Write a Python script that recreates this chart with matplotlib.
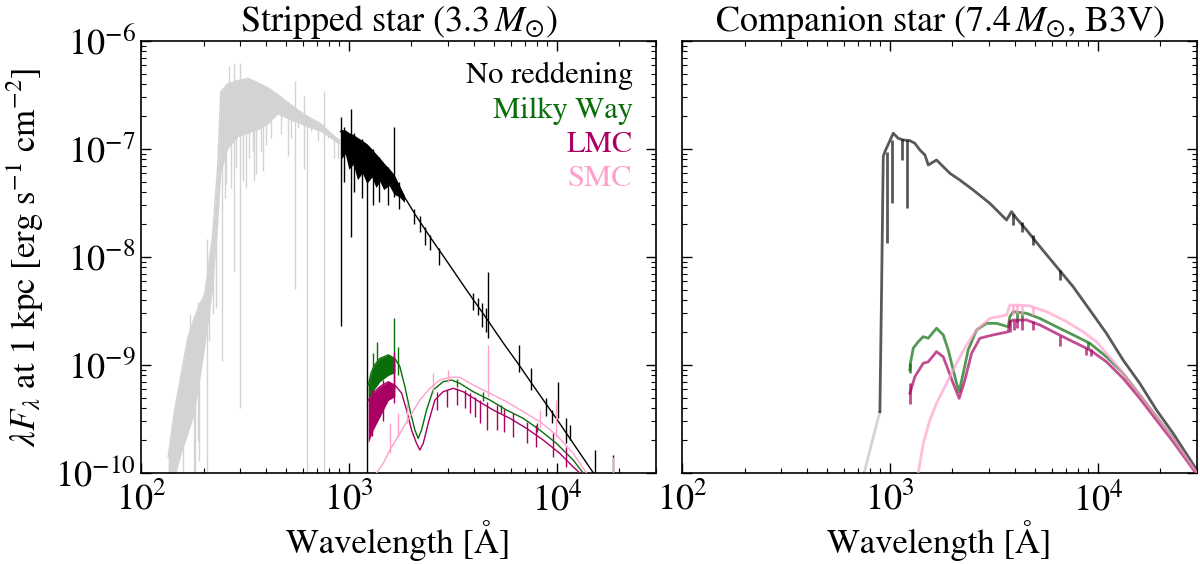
import numpy as np
import matplotlib
matplotlib.use("Agg")
import matplotlib.pyplot as plt

plt.rcParams['font.family'] = ['STIXGeneral', 'DejaVu Serif']
plt.rcParams['mathtext.fontset'] = 'stix'

# colours
c_gray = '#d3d3d3'
c_mw = '#0a6e0a'
c_lmc = '#aa0064'
c_smc = '#ffa0cd'

# ---------------- stripped star (left) ----------------
# unreddened spectrum below the Lyman limit (light grey): top and bottom of the line forest
gray_wl = [135, 145, 156, 168, 180, 191, 202, 209, 221, 234, 242, 261, 292, 326,
           364, 406, 454, 507, 567, 633, 734, 819, 900]
gray_hi = [1.4e-10, 3.8e-10, 8.2e-10, 1.8e-9, 2.7e-9, 3.6e-9, 4.5e-9, 6.9e-9, 1.6e-8,
           7.2e-8, 3.4e-7, 4.0e-7, 4.3e-7, 4.5e-7, 4.1e-7, 3.7e-7, 3.2e-7, 2.7e-7,
           2.3e-7, 2.0e-7, 1.7e-7, 1.4e-7, 1.2e-7]
gray_lo = [9e-11, 9e-11, 1.5e-10, 2.3e-10, 3.5e-10, 7e-10, 1.4e-9, 2.3e-9, 5e-9,
           2e-8, 6e-8, 1.0e-7, 1.3e-7, 1.4e-7, 1.5e-7, 1.7e-7, 2.1e-7, 1.9e-7,
           1.75e-7, 1.6e-7, 1.45e-7, 1.25e-7, 1.1e-7]
gray_sp_wl = [141, 147, 159, 172, 180, 181, 187, 189, 190, 208, 213, 221, 229,
              245, 253, 256, 266, 271, 281, 286, 300, 308, 320, 332, 344, 351, 357,
              378, 385, 399, 422, 471, 507, 526, 550, 567, 610, 626, 657, 707, 755,
              790, 850, 882]
gray_sp_lo = [9e-11, 9e-11, 9e-11, 4e-10, 9e-11, 5e-11, 1.98e-10, 1e-9, 1.3e-10,
              5e-11, 1.67e-9, 2.94e-9, 3.37e-9,
              1.09e-9, 3.54e-8, 4.71e-8, 1.5e-7, 4.39e-8, 7.41e-9, 6.71e-8, 4.03e-10,
              5.06e-8, 4.39e-8, 8.31e-8, 9.58e-8, 5.06e-8, 5.83e-8, 9.58e-8, 6.25e-8,
              1.1e-7, 1.27e-7, 1.37e-7, 8.6e-8, 1.27e-7, 5.02e-9, 1.58e-7, 6.48e-8,
              5e-11, 1.47e-7, 1.19e-7, 5e-11, 1.27e-7, 8.3e-8, 8.31e-8]
gray_sp_hi = [2.82e-10, 4.64e-10, 8.2e-10, 2.94e-9, 1.92e-9, 2.7e-9, 2.22e-9, 3.8e-9,
              3.6e-9, 1.47e-8, 1.06e-8, 1.87e-8, 2.15e-8,
              3.44e-7, 3.4e-7, 3.9e-7, 5.88e-7, 4.1e-7, 6.08e-7, 4.3e-7, 6.3e-7,
              4.4e-7, 4.4e-7, 4.5e-7, 4.4e-7, 4.2e-7, 4.2e-7, 4.0e-7, 3.8e-7, 3.8e-7,
              3.5e-7, 3.1e-7, 2.7e-7, 2.6e-7, 4.27e-7, 2.3e-7, 3.1e-7, 2.02e-7,
              1.95e-7, 1.8e-7, 3.44e-7, 1.5e-7, 1.3e-7, 1.25e-7]

# no reddening (black)
bk_wl = [912, 1000, 1100, 1220, 1350, 1470, 1650, 1850, 2090, 2500, 3000, 3680,
         4500, 5500, 6400, 8000, 10000, 12000, 15000, 16500]
bk_f = [1.45e-7, 1.36e-7, 1.22e-7, 1.08e-7, 8.8e-8, 7.3e-8, 5.6e-8, 3.6e-8, 2.45e-8,
        1.46e-8, 8.8e-9, 4.95e-9, 2.85e-9, 1.62e-9, 1.08e-9, 5.8e-10, 3.15e-10,
        1.88e-10, 1.0e-10, 7.6e-11]
bk_band_wl = [912, 960, 1000, 1050, 1100, 1160, 1220, 1290, 1350, 1410, 1470, 1560,
              1650, 1750, 1850]
bk_band_hi = [1.52e-7, 1.5e-7, 1.42e-7, 1.36e-7, 1.28e-7, 1.2e-7, 1.12e-7, 1.0e-7,
              9.0e-8, 8.2e-8, 7.4e-8, 6.6e-8, 5.8e-8, 4.6e-8, 3.7e-8]
bk_band_lo = [8.0e-8, 9.0e-8, 6.5e-8, 7.2e-8, 5.2e-8, 6.0e-8, 4.8e-8, 5.5e-8, 4.4e-8,
              5.0e-8, 4.2e-8, 4.6e-8, 3.8e-8, 3.6e-8, 3.2e-8]
bk_sp_wl = [915, 950, 1022, 1060, 1150, 1216, 1300, 1400, 1550, 1655, 1750, 2050,
            2200, 2330, 2450, 2700, 3961, 4169, 4388, 4556, 4686, 6563, 7551, 8900,
            9436, 10140, 11130, 11600, 15240, 18660]
bk_sp_lo = [2.3e-9, 5e-8, 1.53e-8, 4e-8, 3.5e-8, 5e-11, 3.0e-8, 3.2e-8, 3.0e-8,
            3.6e-8, 2.8e-8, 2.0e-8, 1.7e-8, 1.3e-8, 1.15e-8, 8.5e-9, 3.2e-9, 2.9e-9,
            2.26e-9, 2.0e-9, 1.78e-9, 8.7e-10, 5.9e-10, 3.4e-10, 2.88e-10, 3.2e-10,
            1.88e-10, 2.0e-10, 8e-11, 8e-11]
bk_sp_hi = [1.98e-7, 1.6e-7, 2.33e-7, 1.4e-7, 1.25e-7, 1.1e-7, 1.0e-7, 8.5e-8,
            6.8e-8, 1.6e-7, 5.0e-8, 2.8e-8, 2.4e-8, 1.9e-8, 1.6e-8, 1.2e-8, 4.6e-9,
            4.2e-9, 3.72e-9, 3.4e-9, 7.3e-9, 1.53e-9, 9.3e-10, 5.0e-10, 3.83e-10,
            7.0e-10, 3.21e-10, 2.8e-10, 1.63e-10, 1.47e-10]

# Milky Way extinction
mw_wl = [1238, 1280, 1330, 1409, 1546, 1664, 1759, 1859, 1965, 2077, 2154, 2236,
         2363, 2543, 2841, 3116, 3418, 3961, 4764, 5728, 6889, 8285, 9963, 11983,
         13385, 14000]
mw_f = [6.5e-10, 8.5e-10, 1.0e-9, 1.15e-9, 1.24e-9, 1.15e-9, 9.65e-10, 6.3e-10,
        3.83e-10, 2.5e-10, 2.09e-10, 2.5e-10, 3.83e-10, 5.87e-10, 7.01e-10, 7.26e-10,
        6.76e-10, 5.66e-10, 4.74e-10, 3.83e-10, 3.21e-10, 2.5e-10, 1.88e-10,
        1.32e-10, 1.0e-10, 9e-11]
mw_band_wl = [1238, 1280, 1330, 1409, 1546, 1664]
mw_band_lo = [4.6e-10, 5.2e-10, 6.0e-10, 7.0e-10, 8.0e-10, 8.5e-10]
mw_sp_wl = [1300, 1358, 1650, 1720, 3300, 4400, 5400, 8000]
mw_sp_lo = [5e-10, 7e-10, 6e-10, 8e-10, 6.2e-10, 4.6e-10, 3.6e-10, 2.4e-10]
mw_sp_hi = [1.3e-9, 1.64e-9, 2.7e-9, 1.48e-9, 7.4e-10, 5.6e-10, 4.3e-10, 2.9e-10]

# LMC extinction
lmc_wl = [1238, 1309, 1409, 1546, 1664, 1792, 1894, 2001, 2115, 2194, 2278, 2407,
          2591, 2841, 3174, 3545, 4110, 4942, 5942, 7149, 8597, 10337, 11983, 12898,
          13500]
lmc_f = [4.7e-10, 5.5e-10, 6.3e-10, 7.0e-10, 6.5e-10, 5.5e-10, 3.83e-10, 2.5e-10,
         1.88e-10, 1.63e-10, 1.88e-10, 2.88e-10, 4.74e-10, 5.66e-10, 6.08e-10,
         5.66e-10, 4.74e-10, 3.83e-10, 3.21e-10, 2.59e-10, 2.02e-10, 1.52e-10,
         1.14e-10, 1.0e-10, 9e-11]
lmc_band_wl = [1238, 1309, 1409, 1546, 1664]
lmc_band_lo = [1.9e-10, 2.5e-10, 3.3e-10, 4.7e-10, 5.1e-10]
lmc_sp_wl = [1285, 1463, 1650, 2640, 2949, 3293, 3600, 3817, 4050, 4264, 4591, 5128,
             5600, 6167, 7149, 7984, 9603, 11130]
lmc_sp_lo = [2.2e-10, 3.0e-10, 4.41e-10, 3.83e-10, 4.11e-10, 4.26e-10, 4.0e-10,
             3.57e-10, 3.3e-10, 2.88e-10, 2.5e-10, 2.5e-10, 2.4e-10, 2.16e-10,
             1.88e-10, 1.75e-10, 1.42e-10, 1.14e-10]
lmc_sp_hi = [5.9e-10, 7.3e-10, 1.33e-9, 5.66e-10, 5.87e-10, 6.08e-10, 5.9e-10,
             5.47e-10, 5.1e-10, 4.74e-10, 4.58e-10, 4.26e-10, 3.9e-10, 3.57e-10,
             2.99e-10, 2.78e-10, 2.33e-10, 1.75e-10]

# SMC extinction
smc_wl = [1330, 1358, 1463, 1574, 1759, 1965, 2194, 2452, 2739, 3059, 3418, 3961,
          4764, 5728, 6889, 8285, 9963, 11983, 13886, 14500]
smc_f = [9e-11, 1.0e-10, 1.23e-10, 1.63e-10, 2.33e-10, 3.32e-10, 4.74e-10, 6.08e-10,
         7.26e-10, 7.69e-10, 7.69e-10, 6.53e-10, 5.47e-10, 4.58e-10, 3.7e-10,
         2.99e-10, 2.25e-10, 1.52e-10, 1.0e-10, 9e-11]
smc_sp_wl = [1574, 1730, 1894, 2543, 3000, 4680, 8285, 9963, 18660]
smc_sp_lo = [1.52e-10, 2.16e-10, 2.88e-10, 5.5e-10, 7.0e-10, 5.09e-10, 2.6e-10,
             2.16e-10, 8e-11]
smc_sp_hi = [2.88e-10, 3.57e-10, 4.41e-10, 8.4e-10, 9.0e-10, 1.53e-9, 3.83e-10,
             4.74e-10, 1.4e-10]

# ---------------- companion star (right) ----------------
cg_wl = [740, 758, 895]
cg_f = [9e-11, 1.07e-10, 3.7e-10]
cb_wl = [895, 912, 929, 946, 1038, 1097, 1159, 1248, 1319, 1394, 1474, 1529, 1676,
         1805, 1944, 2170, 2516, 3025, 3639, 3846, 4064, 4541, 5264, 6329, 7609,
         9153, 11010, 13241, 15921, 19151, 23026, 29263, 31000]
cb_f = [3.7e-10, 5e-9, 8.5e-8, 9.45e-8, 1.40e-7, 1.256e-7, 1.212e-7, 1.195e-7,
        1.128e-7, 9.79e-8, 8.8e-8, 7.11e-8, 7.91e-8, 6.86e-8, 5.95e-8, 5.16e-8,
        4.17e-8, 3.14e-8, 2.2e-8, 2.63e-8, 2.28e-8, 1.78e-8, 1.25e-8, 8.14e-9,
        5.31e-9, 3.23e-9, 1.96e-9, 1.11e-9, 6.76e-10, 3.83e-10, 2.33e-10, 1.14e-10,
        1.0e-10]
cb_sp_wl = [971, 1019, 1138, 1202, 3916, 4296, 4852, 6568]
cb_sp_lo = [1.34e-8, 3.14e-8, 7.9e-8, 2.82e-8, 1.98e-8, 1.72e-8, 1.29e-8, 6.12e-9]
cb_sp_hi = [9.3e-8, 1.2e-7, 1.25e-7, 1.2e-7, 2.5e-8, 2.1e-8, 1.6e-8, 7.6e-9]

cmw_wl = [1248, 1255, 1295, 1368, 1447, 1529, 1676, 1805, 1908, 2016, 2092, 2154,
          2252, 2380, 2611, 2916, 3257, 3707, 3776, 3916, 4541, 5264, 6329, 7609,
          9153, 11010, 13241, 15921, 19151, 23026, 29263, 31000]
cmw_f = [9e-10, 1.04e-9, 1.43e-9, 1.64e-9, 1.83e-9, 1.77e-9, 2.19e-9, 1.90e-9,
         1.38e-9, 8.99e-10, 6.76e-10, 5.66e-10, 8.37e-10, 1.38e-9, 2.11e-9, 2.43e-9,
         2.43e-9, 2.26e-9, 2.80e-9, 3.12e-9, 3.01e-9, 2.70e-9, 2.26e-9, 1.90e-9,
         1.59e-9, 1.19e-9, 8.37e-10, 5.28e-10, 3.32e-10, 2.09e-10, 1.07e-10, 9.5e-11]
cmw_sp_wl = [1250, 4100, 4340, 9000]
cmw_sp_lo = [8.5e-10, 2.5e-9, 2.6e-9, 1.45e-9]
cmw_sp_hi = [1.05e-9, 3.0e-9, 3.0e-9, 1.65e-9]

clmc_wl = [1248, 1319, 1447, 1529, 1676, 1805, 1908, 2016, 2154, 2294, 2470, 2708,
           3140, 3707, 3776, 3916, 4541, 5264, 6329, 7609, 9153, 11010, 13241,
           15921, 19151, 23026, 29263, 31000]
clmc_f = [5.47e-10, 7.8e-10, 1.04e-9, 1.07e-9, 1.33e-9, 1.19e-9, 8.99e-10, 6.76e-10,
          4.91e-10, 7.26e-10, 1.28e-9, 1.77e-9, 1.90e-9, 2.03e-9, 2.52e-9, 2.61e-9,
          2.61e-9, 2.35e-9, 1.96e-9, 1.64e-9, 1.38e-9, 1.07e-9, 7.52e-10, 4.91e-10,
          3.09e-10, 1.95e-10, 1.03e-10, 9e-11]
clmc_sp_wl = [1250, 3800, 3970, 4100, 4340, 4861, 6563, 8800, 9300]
clmc_sp_lo = [4.4e-10, 2.0e-9, 2.1e-9, 2.2e-9, 2.1e-9, 2.1e-9, 1.5e-9, 1.25e-9, 1.2e-9]
clmc_sp_hi = [6.8e-10, 2.6e-9, 2.6e-9, 2.6e-9, 2.6e-9, 2.55e-9, 1.85e-9, 1.45e-9, 1.4e-9]

csmc_wl = [1340, 1368, 1447, 1557, 1676, 1873, 2092, 2337, 2611, 3025, 3639, 3776,
           4064, 4711, 5665, 7070, 8502, 9854, 11010, 13241, 15921, 19151, 23026,
           29263, 31000]
csmc_f = [9e-11, 1.0e-10, 1.88e-10, 3.09e-10, 4.41e-10, 6.76e-10, 1.04e-9, 1.53e-9,
          2.11e-9, 2.70e-9, 2.90e-9, 3.59e-9, 3.59e-9, 3.52e-9, 3.12e-9, 2.52e-9,
          2.03e-9, 1.64e-9, 1.28e-9, 8.37e-10, 5.28e-10, 3.32e-10, 2.09e-10,
          1.07e-10, 9.5e-11]
csmc_sp_wl = [3900, 4100, 4340, 4861]
csmc_sp_lo = [2.9e-9, 3.0e-9, 2.9e-9, 2.9e-9]
csmc_sp_hi = [3.6e-9, 3.6e-9, 3.55e-9, 3.45e-9]


def spectrum(ax, wl, f, color, lw, alpha=1.0, sp=None, band=None, z=2):
    ax.plot(wl, f, color=color, lw=lw, alpha=alpha, zorder=z)
    if band is not None:
        bwl, blo, bhi = band
        ax.fill_between(bwl, blo, bhi, color=color, alpha=alpha, lw=0, zorder=z)
    if sp is not None:
        swl, slo, shi = sp
        ax.vlines(swl, slo, shi, color=color, lw=lw, alpha=alpha, zorder=z)


fig = plt.figure(figsize=(12, 5.64), dpi=100)
ax1 = fig.add_axes([141 / 1200, 1 - 473 / 564, 515 / 1200, 432 / 564])
ax2 = fig.add_axes([682 / 1200, 1 - 473 / 564, 515 / 1200, 432 / 564])

# left panel
spectrum(ax1, gray_wl, gray_hi, c_gray, 1.0, sp=(gray_sp_wl, gray_sp_lo, gray_sp_hi),
         band=(gray_wl, gray_lo, gray_hi), z=1)
spectrum(ax1, bk_wl, bk_f, 'k', 1.0, sp=(bk_sp_wl, bk_sp_lo, bk_sp_hi),
         band=(bk_band_wl, bk_band_lo, bk_band_hi), z=2)
spectrum(ax1, mw_wl, mw_f, c_mw, 1.0, sp=(mw_sp_wl, mw_sp_lo, mw_sp_hi),
         band=(mw_band_wl, mw_band_lo, mw_f[:6]), z=3)
spectrum(ax1, lmc_wl, lmc_f, c_lmc, 1.0, sp=(lmc_sp_wl, lmc_sp_lo, lmc_sp_hi),
         band=(lmc_band_wl, lmc_band_lo, lmc_f[:5]), z=4)
spectrum(ax1, smc_wl, smc_f, c_smc, 1.0, sp=(smc_sp_wl, smc_sp_lo, smc_sp_hi), z=5)

# right panel
ax2.plot(cg_wl, cg_f, color=c_gray, lw=2.0, zorder=1)
spectrum(ax2, cb_wl, cb_f, 'k', 2.0, alpha=0.65, sp=(cb_sp_wl, cb_sp_lo, cb_sp_hi), z=2)
spectrum(ax2, cmw_wl, cmw_f, c_mw, 2.0, alpha=0.7, sp=(cmw_sp_wl, cmw_sp_lo, cmw_sp_hi), z=3)
spectrum(ax2, clmc_wl, clmc_f, c_lmc, 2.0, alpha=0.7, sp=(clmc_sp_wl, clmc_sp_lo, clmc_sp_hi), z=4)
spectrum(ax2, csmc_wl, csmc_f, c_smc, 2.0, alpha=0.7, sp=(csmc_sp_wl, csmc_sp_lo, csmc_sp_hi), z=5)

for ax in (ax1, ax2):
    ax.set_xscale('log')
    ax.set_yscale('log')
    ax.set_xlim(1e2, 3e4)
    ax.set_ylim(1e-10, 1e-6)
    ax.tick_params(which='both', direction='in', top=True, right=True, labelsize=26)
    ax.tick_params(which='major', length=7, width=1.0)
    ax.tick_params(which='minor', length=3.5, width=0.8)
    ax.tick_params(axis='x', pad=7)
    ax.tick_params(axis='y', pad=4)
    for s in ax.spines.values():
        s.set_linewidth(1.2)
    ax.set_xlabel('Wavelength [Å]', fontsize=25, labelpad=1)

ax2.tick_params(labelleft=False)
ax1.set_ylabel(r'$\lambda F_\lambda$ at 1 kpc [erg s$^{-1}$ cm$^{-2}$]', fontsize=25, labelpad=6)
ax1.set_title(r'Stripped star ($3.3\,M_{\odot}$)', fontsize=26, pad=4)
ax2.set_title(r'Companion star ($7.4\,M_{\odot}$, B3V)', fontsize=26, pad=4)

legend_items = [('No reddening', 'k', 0.902), ('Milky Way', c_mw, 0.821),
                ('LMC', c_lmc, 0.744), ('SMC', c_smc, 0.665)]
for label, col, yy in legend_items:
    ax1.text(0.955, yy, label, color=col, fontsize=22, ha='right', va='baseline',
             transform=ax1.transAxes)

fig.savefig('out.png', dpi=100)
